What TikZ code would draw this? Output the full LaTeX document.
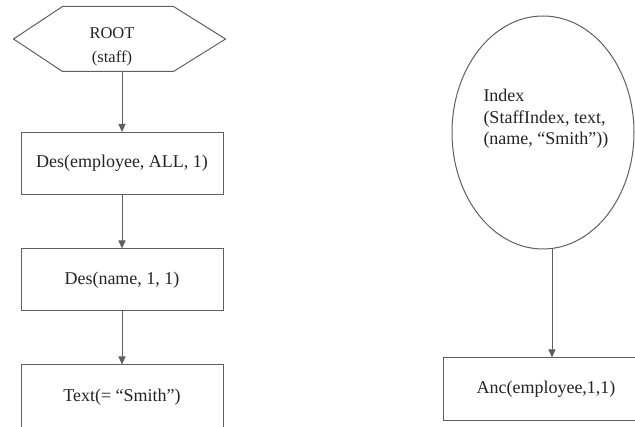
\documentclass[tikz,border=0pt]{standalone}
\usepackage{fontspec}
\setmainfont{Liberation Serif}
\usetikzlibrary{arrows.meta, positioning, shapes.geometric}
\definecolor{linegray}{RGB}{95,95,95}
\definecolor{textgray}{RGB}{35,35,35}

\begin{document}
\begin{tikzpicture}[x=1pt, y=-1pt, >={Triangle[length=8pt, width=7pt]}, line width=1pt]
        % Estilos para los bloques, el ovalo y el texto
        \tikzstyle{txt} = [text=textgray, font=\fontsize{18}{22}\selectfont, inner sep=0pt]
        \tikzstyle{block} = [txt, draw=linegray, rectangle, minimum width=202pt, minimum height=62pt]
        \tikzstyle{oval} = [draw=linegray, ellipse, minimum width=182pt, minimum height=233pt, inner sep=0pt]
        \tikzstyle{wire} = [draw=linegray, ->]

        \clip (0,0) rectangle (635,427);

        % Nodes
        \node at (118,39) [minimum width=110pt, minimum height=64pt, inner sep=0pt] (root) {};
        \node at (112,63) [txt, font=\fontsize{16.5}{24}\selectfont, align=center, anchor=base] (rootText) {ROOT\\(staff)};
        \node [block, on grid, below=124.5pt of root, xshift=4pt] (desEmp) {Des(employee, ALL, 1)};
        \node [block, on grid, below=116.5pt of desEmp] (desName) {Des(name, 1, 1)};
        \node [block, on grid, below=117pt of desName, minimum height=64pt] (textSmith) {Text(= “Smith”)};
        \node at (543,132.5) [oval] (idx) {};
        \node at (483,145) [txt, font=\fontsize{18}{21.5}\selectfont, align=left, anchor=base west] (idxText) {Index\\(StaffIndex, text,\\(name, “Smith”))};
        \node at (546,389.5) [block, minimum width=206pt, minimum height=63pt] (anc) {Anc(employee,1,1)};

        % Lines
        \draw [draw=linegray] (root.north west) -- (root.north east) -- ([xshift=52pt]root.east) -- (root.south east) -- (root.south west) -- ([xshift=-49pt]root.west) -- cycle;
        \draw [wire] (desEmp.north |- root.south) -- (desEmp.north);
        \draw [wire] (desEmp) -- (desName);
        \draw [wire] (desName) -- (textSmith);
        \draw [wire] ([xshift=9pt]idx.south) -- ([xshift=6pt]anc.north);

      \end{tikzpicture}
\end{document}
